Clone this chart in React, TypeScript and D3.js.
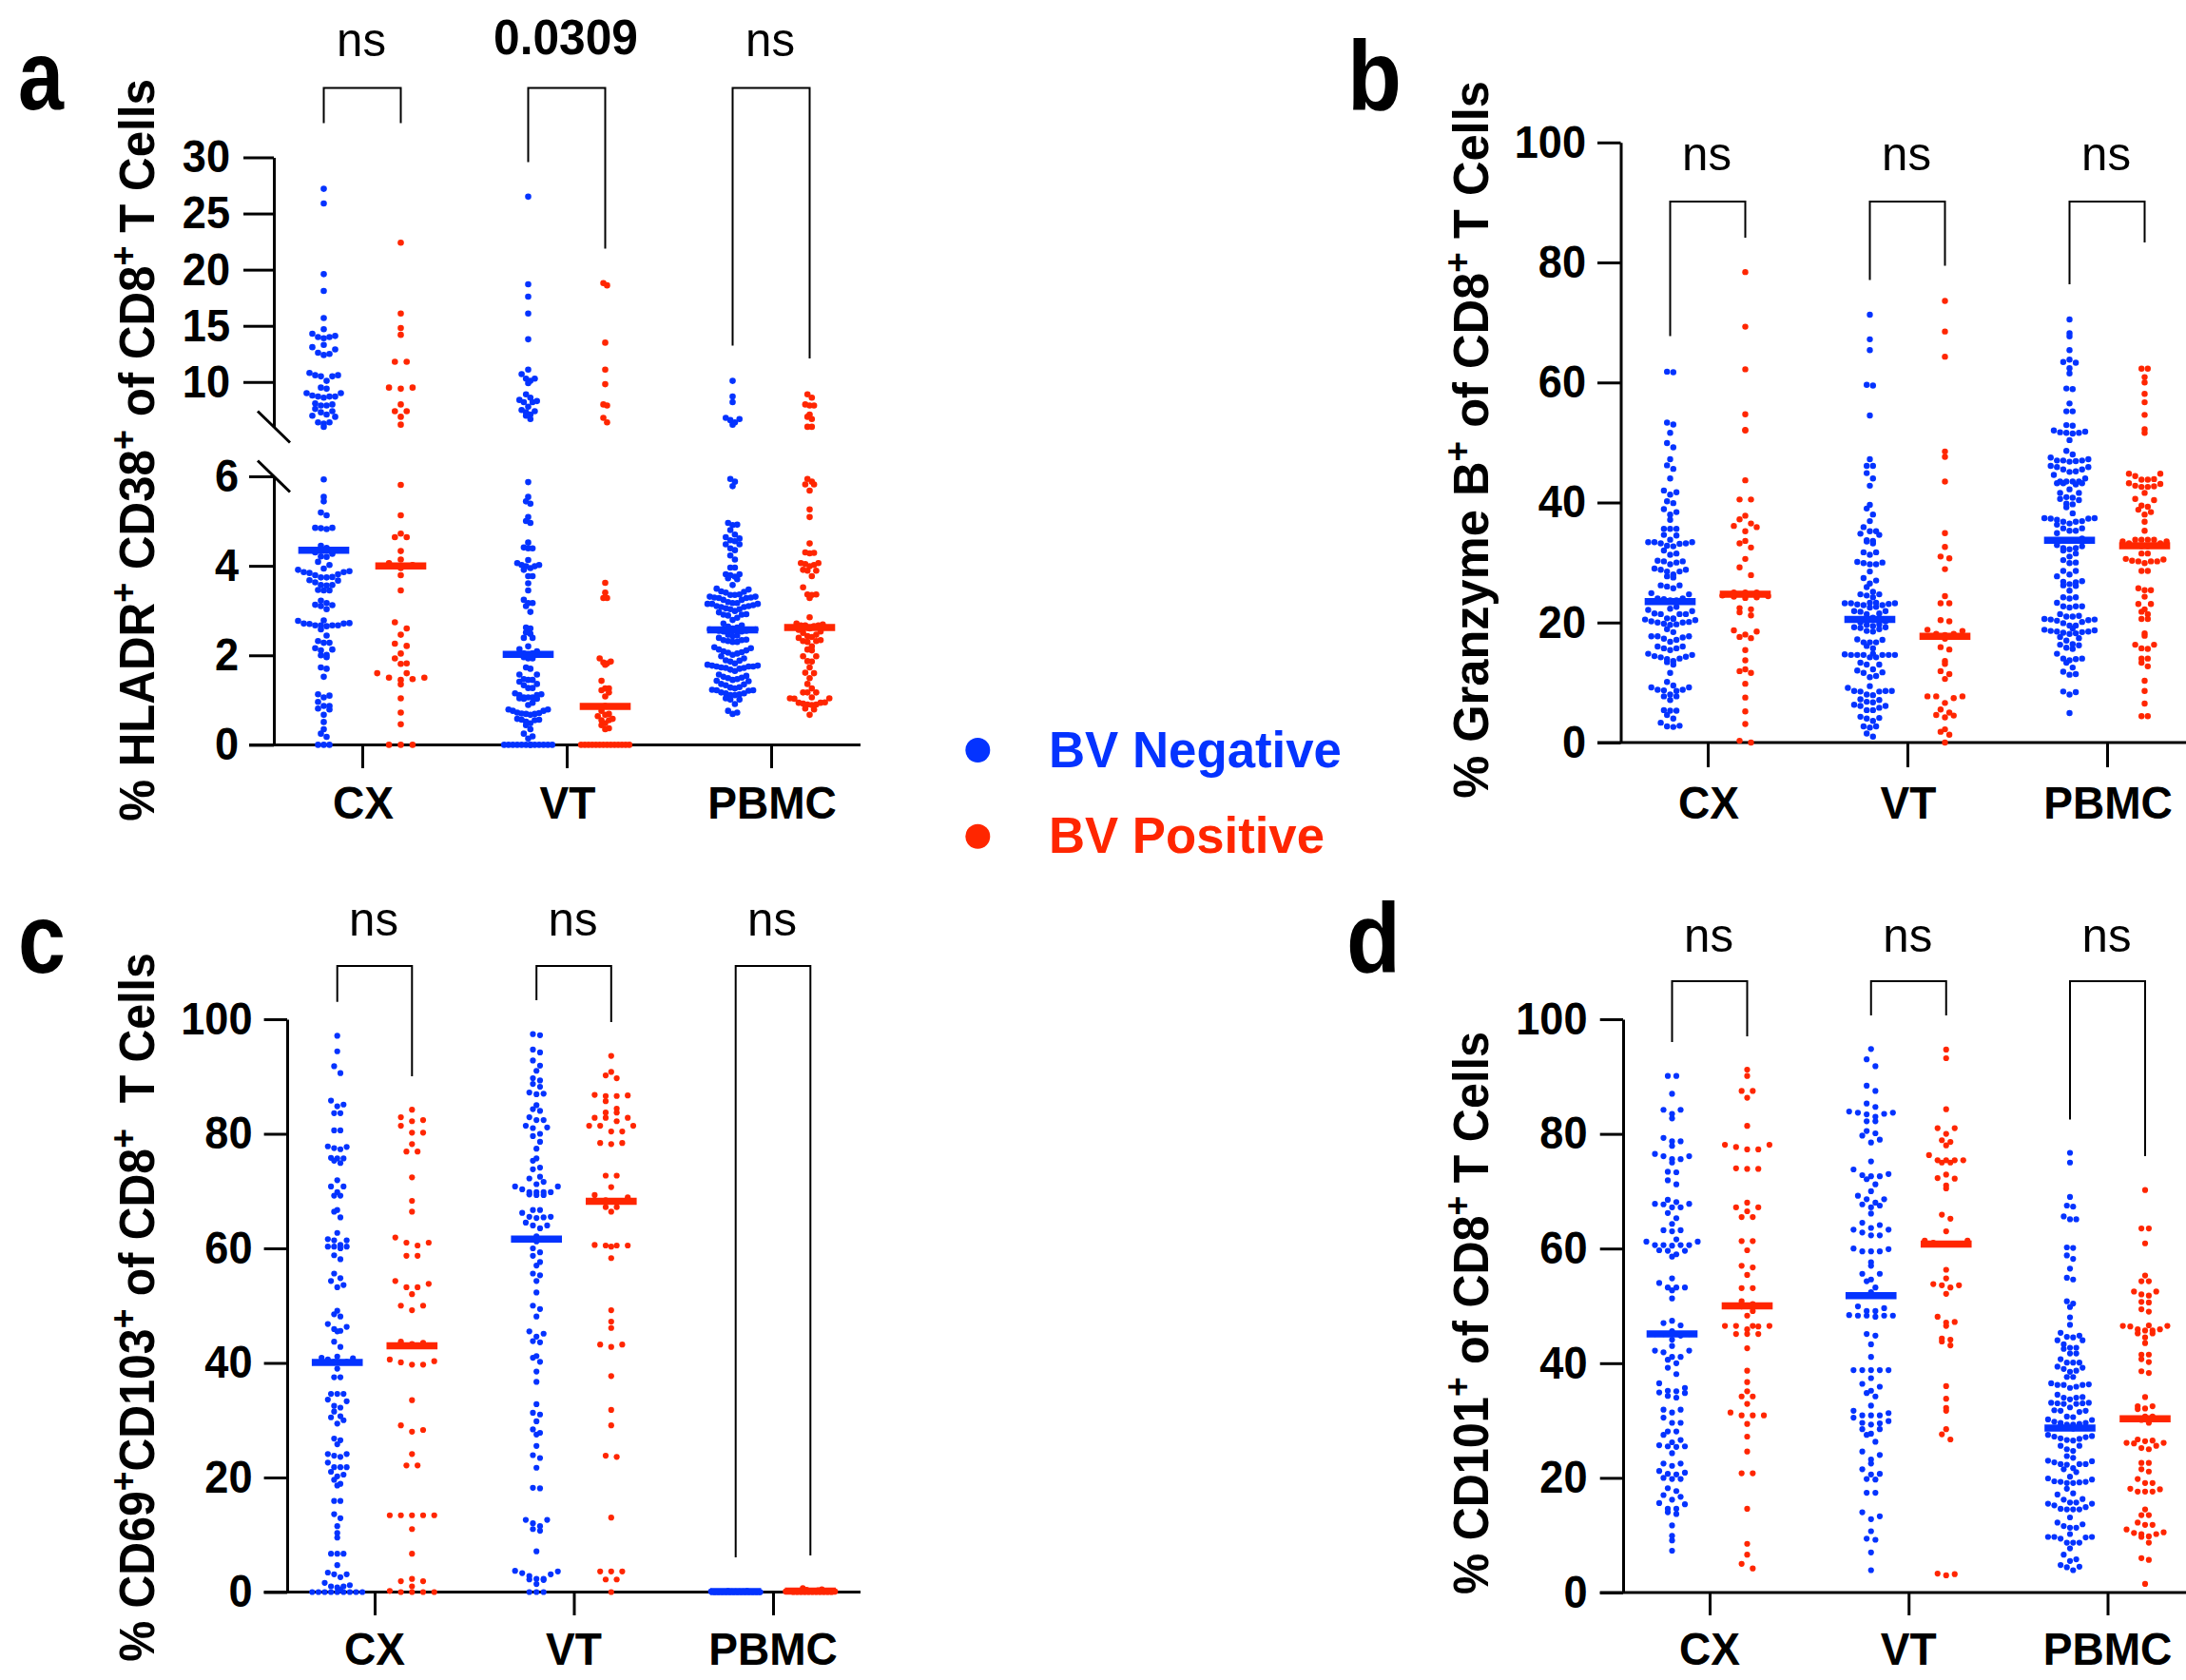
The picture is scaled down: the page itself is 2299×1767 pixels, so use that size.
import { useEffect, useRef } from 'react';
import * as d3 from 'd3';

const BLUE = '#0433ff';
const RED = '#ff2600';
const FONT = '"Liberation Sans", Arial, sans-serif';

const categories = ['CX', 'VT', 'PBMC'];

// panel a: % HLADR+ CD38+ (broken axis at 6)
const aCxNeg = [27.2,25.9,19.6,18.1,15.7,14.7,14.3,14.1,14,14,13.9,13.3,13.1,12.9,12.6,12.5,12.4,10.8,10.6,10.6,10.5,10.1,10.5,9.5,9.4,9,8.8,8.7,8.7,8.7,9,8.6,8.1,8,7.9,7.9,7.6,7.4,7.3,7.1,7,6.9,6.4,6.4,6.3,6.01,
  5.93,5.54,5.44,5.19,5.13,4.85,4.85,4.82,4.84,4.45,4.4,4.3,4.27,4.21,4.2,4.09,4.02,3.94,3.91,3.88,3.86,3.84,3.86,3.81,3.79,3.75,3.74,3.74,3.68,3.67,3.63,3.57,3.57,3.56,3.46,3.45,3.45,3.22,3.17,3.13,3.12,3.1,3.03,2.78,2.77,2.72,2.71,2.71,2.7,2.67,2.67,2.67,2.67,2.65,2.58,2.44,2.32,2.28,2.28,2.16,2.13,2.11,2.01,2,1.96,1.73,1.7,1.52,1.13,1.1,1.06,0.96,0.87,0.87,0.79,0.81,0.67,0.51,0.35,0.25,0.18,0,0,0];
const aCxPos = [22.4,16.1,14.8,14.2,11.8,11.8,9.5,9.5,9.4,8,7.4,7.4,6.9,6.2,5.81,5.13,4.72,4.64,4.64,4.33,4.14,4.06,4.02,3.95,3.79,3.45,2.74,2.6,2.46,2.26,2.21,2.04,1.93,1.82,1.81,1.6,1.6,1.5,1.5,1.47,1.45,1.35,1.04,0.72,0.46,0,0,0];
const aVtNeg = [26.5,18.7,17.6,16.1,13.8,11.1,10.7,10.1,10.3,10.3,9.9,8.9,8.6,8.4,8.3,8.2,8.2,7.8,7.5,7.4,7.3,7.1,7,6.7,
  5.87,5.54,5.44,5.39,5.09,5,4.96,4.52,4.41,4.39,4.39,4.13,4.06,4.02,4.02,3.99,3.95,3.91,3.99,3.77,3.77,3.61,3.45,3.24,3.17,3.17,3.1,2.97,2.62,2.6,2.51,2.48,2.39,2.39,2.2,2.14,2.09,2.04,2.04,2.01,1.96,1.93,1.93,1.73,1.7,1.57,1.57,1.47,1.45,1.45,1.41,1.36,1.33,1.27,1.27,1.15,1.11,1.11,1.13,1.06,1.04,1.03,1.06,1.06,1.03,0.94,0.89,0.79,0.79,0.76,0.72,0.7,0.71,0.69,0.69,0.67,0.76,0.58,0.56,0.55,0.56,0.52,0.48,0.44,0.35,0.25,0.19,0.14,0,0,0,0,0,0,0,0,0,0,0,0,0];
const aVtPos = [18.8,18.6,13.5,11.1,9.8,8,7.9,6.8,6.4,3.62,3.4,3.28,3.28,1.93,1.86,1.82,1.84,1.79,1.43,1.26,1.26,1.22,1.17,1.08,0.87,0.76,0.69,0.67,0.64,0.58,0.55,0.55,0.48,0.44,0.37,0.35,0,0,0,0,0,0,0,0,0,0,0,0,0,0];
const aPbmcNeg = [10.1,8.7,8.2,6.8,6.7,6.6,6.4,6.2,5.94,5.88,5.78,4.96,4.92,4.91,4.8,4.7,4.64,4.61,4.57,4.55,4.48,4.48,4.39,4.35,4.23,4.14,3.96,3.96,3.81,3.81,3.79,3.76,3.72,3.7,3.57,3.47,3.49,3.43,3.42,3.4,3.36,3.35,3.35,3.31,3.31,3.29,3.29,3.28,3.28,3.24,3.24,3.19,3.17,3.17,3.15,3.15,3.15,3.12,3.1,3.1,3.08,3.08,3.05,3.03,3.03,2.99,2.96,2.92,2.91,2.89,2.91,2.84,2.79,2.71,2.67,2.64,2.62,2.6,2.58,2.58,2.57,2.57,2.55,2.55,2.53,2.53,2.46,2.44,2.43,2.39,2.35,2.34,2.34,2.32,2.3,2.3,2.18,2.16,2.13,2.11,2.09,2.07,2.06,2.04,2.01,1.98,1.93,1.89,1.88,1.86,1.82,1.79,1.77,1.77,1.75,1.75,1.75,1.73,1.72,1.7,1.72,1.68,1.65,1.57,1.54,1.52,1.5,1.49,1.47,1.45,1.43,1.42,1.36,1.35,1.33,1.29,1.28,1.26,1.23,1.22,1.22,1.21,1.17,1.15,1.15,1.13,1.11,1.11,1.04,1.01,1.01,0.91,0.76,0.72,0.69];
const aPbmcPos = [8.9,8.6,8,7.9,7.9,7.1,6.9,6.7,6.01,6.01,5.94,5.88,5.82,5.82,5.68,5.26,5.09,4.5,4.3,4.29,4.28,4.06,4.06,4.04,4.02,3.99,3.91,3.89,3.89,3.77,3.52,3.36,3.36,3.35,3.28,2.85,2.71,2.69,2.67,2.67,2.67,2.65,2.6,2.57,2.53,2.5,2.46,2.43,2.41,2.39,2.34,2.32,2.32,2.3,2.2,2.13,2.11,1.98,1.98,1.87,1.86,1.73,1.61,1.6,1.49,1.36,1.26,1.17,1.17,1.17,1.06,1.04,1.04,1.03,0.95,0.94,0.92,0.94,0.9,0.9,0.89,0.81,0.79,0.67];
const aMeans = [4.35, 4.0, 2.02, 0.86, 2.57, 2.62];

// panel b: % Granzyme B+
const bCxNeg = [61.8,61.7,53.3,53,51.6,49.9,49.2,47.2,46.2,45.6,44,42,41.7,41.3,40.2,39.9,38.9,38.4,38,37.1,35.6,35.6,35.6,34.6,34.5,33.8,33.4,33.4,33.2,33.2,33.1,32.8,32.7,33.4,32,31.5,31.3,30.3,30.2,29.7,30.2,30,29,28.8,28.5,28.5,28.8,28,27.5,27.7,26.2,26,26.2,25.7,24.9,24.7,24,24,23.7,23.5,23.9,23.7,22.6,22.3,22.1,21.9,21.4,21.4,21.5,21.4,20.7,20.5,20.6,20.7,20.4,20.2,20,20,20.1,19.7,19.8,19.6,18.9,18.4,17.7,17.7,17.7,17.5,17.1,17.3,16.8,16,15.7,16,15.7,15.4,14.8,14.6,14.4,14.2,14.3,14,13.9,13.4,13.6,13,11.6,10.1,9.5,9.2,9.2,8.8,8.6,8.7,8.8,8,7.7,7.7,7.1,5.4,5.3,5.3,4.6,4,3.3,2.7,2.6,2.8];
const bCxPos = [78.4,69.3,62.2,54.7,52.1,52,43.7,40.5,40.5,37.8,37.2,36.5,36.1,35.2,35.9,33.6,33.2,32.5,30.6,29.2,27.9,25,25,25,24.9,24.7,24.5,24.2,24.4,24.1,24.3,22.2,21.7,22.4,21.2,18.7,18.5,18,17.4,17.6,15.4,13.7,11.9,11.6,12.2,9.8,7.5,5.2,3.1,0.3,0];
const bVtNeg = [71.3,67.2,65.4,59.5,59.6,54.5,47.2,46.1,46.1,44.9,44,42.8,39.6,39,38,36.9,35.9,35.2,34.8,34.6,35.2,33.7,33.5,33.2,33.6,31.7,31.7,31.3,30,29.9,29.7,29.7,30.1,28.5,27.4,27,26.5,25.9,25.1,24.7,24.5,24.7,24.2,23.3,23.2,23.3,23.2,23,22.9,22.9,23.2,23.1,22.6,22.5,21.9,21.8,21.9,21.5,21.4,20.8,20.5,20.5,20.5,20.2,20,19.7,19.6,19.4,19.2,19.1,18.9,18.6,18.5,19.2,17.1,17.2,16.7,16.7,16.7,16.1,15.7,14.8,14.6,14.6,14.7,14.2,14.6,14.6,14.2,14.6,14.6,13.3,13,13,12.2,12,11.7,11.6,11.1,10.9,9.4,9.1,8.6,8.6,8.6,8.5,8.5,8,7.9,7.1,7.2,6.7,6.3,6.8,6.1,5.4,5.4,5.8,6.1,4.3,4,4.1,3.6,2.7,2.5,2.7,1.5,1];
const bVtPos = [73.6,68.5,64.3,48.5,47.6,43.5,34.9,32.6,31,30.7,28.9,24.4,23.2,23.2,20.2,20.4,18.6,18.8,18.1,18.1,17.9,17.3,15.9,15.5,13.6,13.1,11.9,11.4,10.6,7.7,7.7,7.4,7.7,6.6,5.5,5,4.6,4.5,4.2,2.2,1.8,1.3,0];
const bPbmcNeg = [70.5,68.2,67.7,65.4,63.8,63.4,63.3,62.4,61.5,59,58.9,56.5,55.2,55.2,52.9,52.8,52,51.7,51.6,51.5,51.6,51.8,50.4,48.6,48,47.5,47,47.2,47,47,46.8,46.9,45.9,46.1,45.9,45.5,45.5,45.2,45.1,44.6,44,43.5,43.5,43.5,43.5,43.2,43.2,43.2,43,42.2,41.6,41.6,40.9,40.8,40.6,40.4,39.8,39.7,39.2,38.2,37.4,37.3,37.4,37.1,36.9,36.8,36.8,36.5,36.3,35.7,37.3,35.3,35.3,34.9,35.7,34,33.7,33.7,33.7,32.9,32.7,32.4,32.2,32.4,32,31.5,31,30.4,30,29.9,28.6,28.6,28,27.7,26.9,26.8,26.7,26.4,26.1,26.2,25.3,24.2,24.2,24,22.7,23.3,22.7,22.7,22.5,21.4,21,21,21.1,20.5,20.6,20.3,20.4,20.5,20.1,19.9,19.5,19.5,19,18.8,18.7,18.5,18.5,18.6,18.3,18.2,18.4,18.1,17.6,17.4,17,16.4,16.3,16.2,15.8,15.6,14.8,14,14,13.9,13.7,13.3,12.5,11.8,11.4,11.3,8.5,8.4,8,4.9];
const bPbmcPos = [62.3,62.3,60.9,60,58.1,56.7,54.6,52.2,51.6,44.8,44.8,44.4,43.8,43.9,43.8,43.2,43.1,42.8,42.7,42.6,42.6,41.6,40.6,40.4,39.5,39.3,38.8,38.4,38,36.8,35.3,33.8,33.8,33.8,33.8,33.5,33.5,33.2,33.2,32.9,32.9,32.7,32.7,31.5,31.5,30.6,30.5,30.3,30.2,30.2,30.2,29.9,28.6,28.6,25.7,25.4,25.4,24.3,23.1,23.1,22.2,21.8,21.4,20.6,20.6,18.2,17.8,16.3,15.7,16.3,15.6,14,14,13.3,12.7,10.3,8.6,6.5,4.4,4.4];
const bMeans = [23.5, 24.7, 20.5, 17.7, 33.7, 32.8];

// panel c: % CD69+CD103+
const cCxNeg = [97.1,94.4,91.8,90.6,85.8,85.1,84.8,83.6,83.6,80.6,80.6,77.8,77.7,77.5,77.3,75.7,75.8,75.7,75.3,74.9,71.9,70.8,70.8,69.8,69.2,69.2,66.7,66.4,65.4,62.7,61.6,61.4,61.4,60.6,60.3,60.3,60.3,60,58.8,58.1,55.6,54.8,54.3,53.6,53.2,49.1,48.5,48.1,46.8,46.3,45.6,45.5,45.9,43.7,42.8,41.1,40.9,40.6,40.8,40.2,40.2,40.1,39,37.5,37.5,34.6,34.6,34.6,33.3,33.6,32.5,32.2,31.5,30.7,30.5,30,29.4,26.5,26.8,25.8,24.1,24.1,23.6,23.8,22.6,21.8,21.8,21.8,21,20.5,20.2,19.6,18.9,18.6,15.9,15.9,13.6,12.9,11.5,10.3,9.5,6.7,6.7,6.7,4.7,3.4,3.1,3.1,2.6,1.6,1,0.8,1.2,1,0.4,0,0,0,0,0,0,0,0,0];
const cCxPos = [84.2,82.9,82.4,82.2,81.4,80.2,80.2,78.2,76.9,76.9,72.4,68.3,66.4,61.9,61,61,60.5,58.7,58.7,54.3,53.8,53.2,53.2,52,50,50,49.2,43.7,43.5,43.3,40.6,40.3,40.1,39.7,39.7,33.5,29.1,28.3,28,24.1,22.1,22.1,13.4,13.4,13.4,13.4,13.4,11,6.7,2.3,1.9,1.9,1,0.2,0,0,0,0];
const cVtNeg = [97.4,97.2,94.7,94.2,92.8,91.9,91,89.7,89.3,88.7,88.2,87.2,87,86.9,85,84.3,84,82.9,82.4,82.4,81.4,81.1,81,80,79.6,78.6,77.4,75.7,75.3,74.1,73.8,72.5,72.2,71.6,71.2,70.8,70.3,69.8,69.8,69.8,69.3,69.3,69.4,69.8,70.8,66.7,66.7,66.2,65.4,65.3,65.5,65.5,64.5,64,64,63.5,62.1,61.6,61.2,61.6,60,59.3,58.7,57.6,57,55.6,55.3,54.3,52.3,50,49.4,48.1,45.5,45.1,44.6,43.8,43.6,41.2,40.9,40.2,38.5,36.7,32.8,31.3,31,29.8,28.4,27.8,27.5,25.5,23.9,23.4,21.7,18.2,18.1,12.6,12.6,12,11.5,11,10.7,7.1,3.7,3.6,3.1,2.8,3.3,2.2,2.3,2.3,2.1,1.4,0,0,0];
const cVtPos = [93.6,90.8,90.2,89.7,86.8,86.7,86.6,86.6,85.7,84.4,83.7,83.7,82.8,82.8,82.8,82.2,81.4,81.4,81.4,80.4,80.4,78.4,78.2,78.4,72.7,72.7,70.7,69.3,68.9,68.4,68.2,67.2,67.2,66.4,60.6,60.5,60.5,60.3,60.5,58.3,49.2,47.2,46.1,43.2,43.2,42.8,37.7,31.8,29.1,23.8,23.6,13,3.6,3.6,3.6,2.2,2.2,0];
const cPbmcNeg = [0.2,0.2,0.1,0.1,0.1,0.1,0.1,0,0,0,0,0,0,0,0,0,0,0,0,0];
const cPbmcPos = [0.7,0.5,0.4,0.3,0.2,0.2,0.1,0.1,0.1,0,0,0,0,0,0,0,0,0,0,0];
const cMeans = [40.1, 43, 61.6, 68.2, 0.1, 0.15];

// panel d: % CD101+
const dCxNeg = [90.1,90.1,87,84.2,84.2,83.5,82.7,79.3,78.7,78.7,77.9,76.5,76.1,76.1,75.6,75.6,75,73.4,73.3,71.9,71.2,68.5,68.1,67.7,67.8,67.8,67.2,67.2,66.2,65.3,64.3,63.2,63.2,63,61.6,61.2,61.2,60.6,60.6,60.6,60.6,60.5,59.6,59.7,59.6,59,58.6,54.8,54,53.2,53.2,53.2,52.7,51.3,47.4,47,46.6,45.6,45.1,45.1,45.1,44.8,44.1,43,42.2,42.2,41.9,41.1,41.1,40.6,40,39.2,38.1,36.5,35.7,35.2,34.9,35.1,34.8,34.3,34,31.9,31.9,31.4,30.5,29.6,29.6,28.1,28.1,27.5,26.6,26.2,25.7,25.5,25.4,25.5,24.3,22.5,22.5,22.1,21.2,20.9,20.7,20.6,19.8,20,19.8,18.2,17.7,17,16.7,16.2,15.4,15.6,14.6,14.6,14,13.7,11.7,9.9,9.1,7.3];
const dCxPos = [91.2,90.1,87.5,87.5,86.3,81.4,78.1,78.1,77.7,77.3,77.3,74,73.9,73.9,68,67.2,67.2,66.5,65.5,65.5,61.3,61.3,59.7,57,56.7,55.4,53.1,53.1,50.8,50.3,49.9,49.1,48.3,46.5,46.5,46.5,46.5,46.4,45.9,45.1,45.1,45.1,42.6,38.7,36.7,35.1,34.2,34.2,32.9,31.4,30.9,30.9,30.9,29.4,27.2,24.6,20.8,20.8,14.6,8.5,6.6,5,4.2];
const dVtNeg = [94.8,93,91.8,88.4,87.5,85.3,84.7,83.9,83.7,83.7,83.5,83.4,83,82.2,82.2,80.5,80.1,79.7,79,78.5,75.2,73.8,72.8,73,72.6,72.6,72.1,71.2,70,69.2,68.6,68.6,68,67.7,67.5,67.2,66.1,64.5,64.1,63.6,63.3,63.3,62.8,62.3,62.3,60,59.9,59.5,59.5,59.5,57.6,57,55.6,55.6,54.6,54.3,53.2,52.4,49.9,49.6,49.1,49.1,48.3,48.3,48.4,48.1,48.3,48.3,45.1,44.8,43.3,41.1,38.8,38.8,38.8,38.8,38.8,37.4,36.4,35.9,35.2,34.8,34.2,32.6,31.7,31.3,30.9,30.9,30.9,30.5,29.9,29.6,29.5,29.3,28.5,28.5,27.7,27.5,26.3,24.6,24,23.2,22.5,21.5,20.7,20.6,19.7,19.8,17.4,17.4,14,13.3,12.8,10.7,9.2,9.4,7,3.9];
const dVtPos = [94.7,93.2,84.3,81,81,80,78.9,78.6,78,76.3,75.4,75.4,75.4,75.4,75,75,72.9,72.3,72.2,71,70.5,65.9,65.2,63,61.4,61.4,61,60.8,60.7,60.7,56.3,54.8,53.8,53.6,53.6,53.2,52.1,48.1,47.2,47.1,46.5,44.3,44.1,43.8,43.1,36,33.8,32.2,31.7,28.5,27.6,26.7,3.2,3,3.3];
const dPbmcNeg = [76.7,75,69,67.3,67.5,65.6,65.1,65.1,60.2,60.1,58.8,58.2,56.5,54.9,54.6,50.8,50.4,49.8,48,46.7,45.3,44.8,44.5,44.6,44,44,43.3,42.7,42.5,42.7,41.7,41.7,40.7,40.1,40.1,40.1,39.2,39.4,39,38.5,38.7,37.6,37.6,36.5,36.2,36.2,35.9,36.3,36.2,35.7,34.5,34,34.1,33.7,34,32.9,33.1,33,33.1,32.9,33,32.3,31.7,31.7,31.8,31.5,30.7,30.6,30.2,30.1,29.8,29.6,29.3,29.4,29.3,29.6,29.1,28.7,28.7,28.6,27.5,27.3,27.2,26.9,26.8,26.5,26.6,27.1,25.6,25.6,24.7,25,23.8,23.5,22.9,22.4,22.4,22.7,23,22.4,22.3,21.5,21.7,21,20.2,19.9,19.7,19.3,19.3,19.1,19.2,19.4,19.1,18.1,17.3,17.1,16.3,16.2,15.7,15.5,15.7,15.5,15.2,14.9,14.5,14.5,14.6,14.5,13.1,12.2,11.9,11.6,11.3,11.3,10.2,9.6,9.7,9.7,9.7,9.4,8.7,8.7,8.7,7.7,6.6,5.8,5.5,4.8,4.4,4.5,3.9];
const dPbmcPos = [70.2,63.5,63.5,60.9,55.3,54.3,54.3,52.5,52.5,52,51.8,50.7,50.6,49.4,49,46.6,46.4,46.5,46.5,45.9,45.9,45.7,45.7,45.2,45.2,44.5,43.5,41.5,41.5,40.7,40.2,38.6,38.3,34.1,32.5,32.5,32,32.1,30.7,30.7,30.1,29.6,26.7,26.5,26.4,26,26.1,26.1,25.6,25.2,25,22.6,22.6,21.5,21.1,19.8,19.1,19.1,18.1,18,17.6,17.6,17.6,14.5,13.5,13.5,12.2,11.8,11.8,11,10.5,10.4,10.2,10.2,9.8,9.7,8.7,6,5.7,1.5];
const dMeans = [45.1, 50, 51.8, 60.8, 28.7, 30.3];

const panels = [
  {
    letter: 'a', letterX: 19, letterW: 48, letterY: 115, dotR: 3.3,
    yTitle: [['% HLADR', 0], ['+', 1], [' CD38', 0], ['+', 1], [' of CD8', 0], ['+', 1], [' T Cells', 0]],
    titleX: 162, titleTop: 83, titleBottom: 864,
    axisX: 288, xLeft: 262, xRight: 905, xTicks: [381, 811], xTickEnd: 808, offset: 40.5, xLabelY: 861, xLabelDx: 1,
    segments: [
      { domain: [0, 6], range: [783.4, 501], ticks: [0, 2, 4, 6], tickLeft: 262, labelRight: 251 },
      { domain: [6.001, 30], range: [449, 165.5], ticks: [10, 15, 20, 25, 30], tickLeft: 256, labelRight: 242 },
    ],
    series: [aCxNeg, aCxPos, aVtNeg, aVtPos, aPbmcNeg, aPbmcPos], means: aMeans,
    steps: [6, 12.4, 4.6, 3.9, 4.8, 4.6],
    bracketTop: 92.6, legs: [[129.6, 129.6], [170.6, 261.5], [363.6, 377]],
    sig: ['ns', '0.0309', 'ns'], sigY: 59,
  },
  {
    letter: 'b', letterX: 1417, letterW: 57, letterY: 115, dotR: 3.2,
    yTitle: [['% Granzyme B', 0], ['+', 1], [' of CD8', 0], ['+', 1], [' T Cells', 0]],
    titleX: 1565, titleTop: 85, titleBottom: 840,
    axisX: 1704.5, xLeft: 1680, xRight: 2299, xTicks: [1796, 2216], xTickEnd: 807, offset: 39.5, xLabelY: 861, xLabelDx: 1,
    segments: [{ domain: [0, 100], range: [781, 149.8], ticks: [0, 20, 40, 60, 80, 100], tickLeft: 1680, labelRight: 1668 }],
    series: [bCxNeg, bCxPos, bVtNeg, bVtPos, bPbmcNeg, bPbmcPos], means: bMeans,
    steps: [6.6, 12, 6.6, 9.2, 6.6, 6.6],
    bracketTop: 212, legs: [[353.5, 250], [294.6, 279.5], [299, 255]],
    sig: ['ns', 'ns', 'ns'], sigY: 178.5,
  },
  {
    letter: 'c', letterX: 19, letterW: 50, letterY: 1023, dotR: 3.1,
    yTitle: [['% CD69', 0], ['+', 1], ['CD103', 0], ['+', 1], [' of CD8', 0], ['+', 1], ['\u00a0 T Cells', 0]],
    titleX: 162, titleTop: 1002, titleBottom: 1748,
    axisX: 302, xLeft: 277.6, xRight: 905, xTicks: [394, 813], xTickEnd: 1699, offset: 39.3, xLabelY: 1751, xLabelDx: 0,
    segments: [{ domain: [0, 100], range: [1674.5, 1072], ticks: [0, 20, 40, 60, 80, 100], tickLeft: 277.6, labelRight: 265.5 }],
    series: [cCxNeg, cCxPos, cVtNeg, cVtPos, cPbmcNeg, cPbmcPos], means: cMeans,
    steps: [6.6, 11.7, 7.5, 11.6, 4, 4],
    bracketTop: 1016, legs: [[1053.7, 1132], [1052, 1075], [1638, 1636]],
    sig: ['ns', 'ns', 'ns'], sigY: 984,
  },
  {
    letter: 'd', letterX: 1416, letterW: 57, letterY: 1022, dotR: 3.1,
    yTitle: [['% CD101', 0], ['+', 1], [' of CD8', 0], ['+', 1], [' T Cells', 0]],
    titleX: 1565, titleTop: 1085, titleBottom: 1677,
    axisX: 1707, xLeft: 1682.7, xRight: 2299, xTicks: [1798, 2216.5], xTickEnd: 1699, offset: 39.5, xLabelY: 1751, xLabelDx: 0,
    segments: [{ domain: [0, 100], range: [1675, 1072], ticks: [0, 20, 40, 60, 80, 100], tickLeft: 1682.7, labelRight: 1669.5 }],
    series: [dCxNeg, dCxPos, dVtNeg, dVtPos, dPbmcNeg, dPbmcPos], means: dMeans,
    steps: [9, 11.7, 9.2, 9, 6.6, 7.8],
    bracketTop: 1032, legs: [[1096, 1090], [1068, 1068], [1177.5, 1216]],
    sig: ['ns', 'ns', 'ns'], sigY: 1000.6,
  },
];

// Prism-like swarm: bin by pixel height, spread each bin symmetric around the centre.
// Bins that do not fit the column width are split into interleaved rows.
function swarm(values, y, step) {
  const binH = 9;
  const maxCols = Math.floor(54 / step) + 1;
  const bins = d3.groups(values, v => Math.round((y(0) - y(v)) / binH));
  const out = [];
  bins.forEach(([, vals]) => {
    const sorted = vals.slice().sort(d3.ascending);
    d3.range(0, sorted.length, maxCols).forEach((start, chunk) => {
      const row = sorted.slice(start, start + maxCols);
      const n = row.length;
      row.forEach((v, i) => {
        const rank = n % 2 ? Math.ceil(i / 2) : Math.floor(i / 2) + 0.5;
        const side = i % 2 === (n % 2 ? 1 : 0) ? 1 : -1;
        out.push({ v, dx: side * rank * step + (chunk % 2 ? step / 2 : 0) });
      });
    });
  });
  return out;
}

// squeeze a text element horizontally to an exact width, the figure's text is non-uniformly resized
function fit(sel, x, y, width, rotate = false) {
  const w = sel.node().getComputedTextLength();
  sel.attr('transform', `translate(${x},${y})${rotate ? ' rotate(-90)' : ''} scale(${width / w},1)`);
}

const App = () => {
  const svgRef = useRef();

  useEffect(() => {
    const svg = d3.select(svgRef.current);
    svg.selectAll('*').remove();
    svg.attr('font-family', FONT);

    panels.forEach(p => {
      const g = svg.append('g');

      const y = d3.scaleLinear()
        .domain(p.segments.flatMap(s => s.domain))
        .range(p.segments.flatMap(s => s.range));

      const x = d3.scalePoint().domain(categories).range(p.xTicks);
      const side = d3.scalePoint().domain(['neg', 'pos']).range([-p.offset, p.offset]);

      // y axis segments
      p.segments.forEach(s => {
        const scale = d3.scaleLinear().domain(s.domain).range(s.range);
        const size = p.axisX - s.tickLeft;
        const axis = d3.axisLeft(scale)
          .tickValues(s.ticks)
          .tickSize(size)
          .tickSizeOuter(0)
          .tickPadding(s.tickLeft - s.labelRight)
          .tickFormat(d3.format('d'));
        const ag = g.append('g').attr('transform', `translate(${p.axisX},0)`).call(axis);
        ag.selectAll('path,line').attr('stroke', '#000').attr('stroke-width', 3);
        ag.selectAll('text')
          .attr('font-family', FONT).attr('font-weight', 'bold').attr('font-size', 48).attr('fill', '#000')
          .attr('x', -(size + s.tickLeft - s.labelRight) / 0.94)
          .attr('transform', 'scale(0.94,1)');
      });

      // axis break marks
      if (p.segments.length > 1) {
        p.segments.forEach(s => {
          const yb = s.domain[0] > 1 ? s.range[0] : s.range[1];
          g.append('line')
            .attr('x1', p.axisX - 17).attr('x2', p.axisX + 17)
            .attr('y1', yb - 16.5).attr('y2', yb + 16.5)
            .attr('stroke', '#000').attr('stroke-width', 3);
        });
      }

      // x axis
      const xg = g.append('g').attr('transform', `translate(0,${y(0)})`)
        .call(d3.axisBottom(x).tickSize(p.xTickEnd - y(0)).tickSizeOuter(0).tickFormat(() => ''));
      xg.select('.domain').remove();
      xg.selectAll('line').attr('stroke', '#000').attr('stroke-width', 3);
      g.append('line')
        .attr('x1', p.xLeft).attr('x2', p.xRight)
        .attr('y1', y(0)).attr('y2', y(0))
        .attr('stroke', '#000').attr('stroke-width', 3);
      categories.forEach(c => {
        const t = g.append('text')
          .attr('text-anchor', 'middle')
          .attr('font-weight', 'bold').attr('font-size', 48)
          .text(c);
        fit(t, x(c) + p.xLabelDx, p.xLabelY, t.node().getComputedTextLength() * 0.96);
      });

      // dots and mean bars
      categories.forEach((c, ci) => {
        ['neg', 'pos'].forEach((k, ki) => {
          const color = k === 'neg' ? BLUE : RED;
          const cx = x(c) + side(k);
          g.append('g').selectAll('circle')
            .data(swarm(p.series[ci * 2 + ki], y, p.steps[ci * 2 + ki]))
            .join('circle')
            .attr('cx', d => cx + d.dx)
            .attr('cy', d => y(d.v))
            .attr('r', p.dotR)
            .attr('fill', color);
          const mean = p.means[ci * 2 + ki];
          g.append('line')
            .attr('x1', cx - 26.8).attr('x2', cx + 26.8)
            .attr('y1', y(mean)).attr('y2', y(mean))
            .attr('stroke', color).attr('stroke-width', 7.5);
        });

        // significance bracket
        const xl = x(c) + side('neg');
        const xr = x(c) + side('pos');
        const [l0, l1] = p.legs[ci];
        g.append('path')
          .attr('d', d3.line()([[xl, l0], [xl, p.bracketTop], [xr, p.bracketTop], [xr, l1]]))
          .attr('fill', 'none').attr('stroke', '#000').attr('stroke-width', 2);
        const label = p.sig[ci];
        const t = g.append('text')
          .attr('text-anchor', 'middle')
          .attr('font-size', label === 'ns' ? 50 : 52)
          .attr('font-weight', label === 'ns' ? 'normal' : 'bold')
          .text(label);
        fit(t, x(c) - 1, label === 'ns' ? p.sigY : p.sigY - 2, label === 'ns' ? 52 : 152);
      });

      // y title, with raised plus signs
      const title = g.append('text')
        .attr('text-anchor', 'middle').attr('font-weight', 'bold').attr('font-size', 52);
      p.yTitle.forEach(([str, sup], i) => {
        const prevSup = i > 0 && p.yTitle[i - 1][1];
        title.append('tspan')
          .attr('xml:space', 'preserve')
          .attr('font-size', sup ? 38 : 52)
          .attr('dy', sup ? -19 : prevSup ? 19 : 0)
          .text(str);
      });
      fit(title, p.titleX, (p.titleTop + p.titleBottom) / 2, p.titleBottom - p.titleTop, true);

      // panel letter
      const letter = g.append('text').attr('font-weight', 'bold').attr('font-size', 103).text(p.letter);
      fit(letter, p.letterX, p.letterY, p.letterW);
    });

    // legend
    [['BV Negative', BLUE, 789, 806.7, 308], ['BV Positive', RED, 879.7, 897, 290]].forEach(([label, color, cy, base, w]) => {
      svg.append('circle').attr('cx', 1028.3).attr('cy', cy).attr('r', 13).attr('fill', color);
      const t = svg.append('text')
        .attr('font-weight', 'bold').attr('font-size', 53).attr('fill', color).text(label);
      fit(t, 1103, base, w);
    });
  }, []);

  return (
    <svg
      ref={svgRef}
      width="2299"
      height="1767"
      style={{ position: 'absolute', left: 0, top: 0, background: '#fff' }}
    />
  );
};

export default App;
